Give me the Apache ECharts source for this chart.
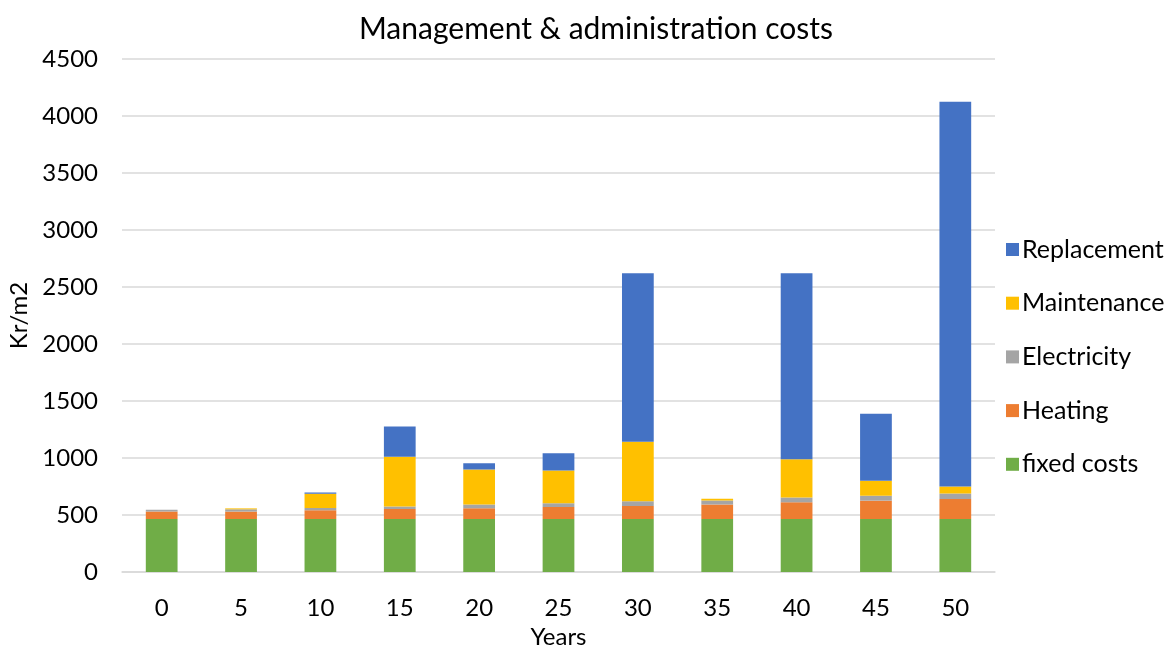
<!DOCTYPE html>
<html>
<head>
<meta charset="utf-8">
<script src="https://cdn.jsdelivr.net/npm/echarts@6/dist/echarts.min.js"></script>
<style>
  html, body { margin: 0; padding: 0; background: #fff; }
  #chart { width: 1170px; height: 648px; }
</style>
</head>
<body>
<div id="chart"></div>
<script>
// years on the x axis
const years = ['0', '5', '10', '15', '20', '25', '30', '35', '40', '45', '50']

// Kr/m2 per cost type
const fixedCosts  = [465, 465, 465, 465, 465, 465, 465, 465, 465, 465, 465]
const heating     = [65, 65, 76, 87, 95, 105, 115, 128, 146, 161, 175]
const electricity = [17, 20, 20, 23, 33, 34, 40, 35, 43, 43, 49]
const maintenance = [0, 8, 125, 437, 306, 286, 523, 15, 335, 131, 61]
const replacement = [0, 0, 11, 265, 56, 152, 1477, 0, 1631, 589, 3375]

const font = 'Lato, "Open Sans", sans-serif'

function stackSeries(name, data, color) {
    return {
        name: name,
        type: 'bar',
        stack: 'total',
        barWidth: '40%',
        data: data,
        itemStyle: { color: color }
    }
}

const myChart = echarts.init(document.getElementById('chart'))
myChart.setOption({
    animation: false,
    textStyle: { fontFamily: font },
    title: {
        text: 'Management & administration costs',
        left: 591,
        textAlign: 'center',
        top: 9,
        textStyle: { fontSize: 30, fontWeight: 'normal', color: '#000', fontFamily: font }
    },
    legend: {
        orient: 'vertical',
        left: 1001,
        top: 232,
        itemWidth: 13,
        itemHeight: 13,
        itemGap: 28.7,
        icon: 'rect',
        data: ['Replacement', 'Maintenance', 'Electricity', 'Heating', 'fixed costs'],
        textStyle: { fontSize: 25, color: '#000', fontFamily: font, padding: [0, 0, 0, -2] }
    },
    grid: { left: 122, right: 175, top: 59, bottom: 76, outerBoundsMode: 'none' },
    xAxis: {
        type: 'category',
        data: years,
        name: 'Years',
        nameLocation: 'middle',
        nameGap: 53,
        nameTextStyle: { fontSize: 24, color: '#000' },
        axisTick: { show: false },
        axisLine: { lineStyle: { color: '#D9D9D9', width: 1.5 } },
        axisLabel: { fontSize: 24, color: '#000', margin: 24 }
    },
    yAxis: {
        type: 'value',
        min: 0,
        max: 4500,
        interval: 500,
        name: 'Kr/m2',
        nameLocation: 'middle',
        nameGap: 85,
        nameRotate: 90,
        nameTextStyle: { fontSize: 24, color: '#000' },
        axisLabel: { fontSize: 24, color: '#000', margin: 24, formatter: v => String(v) },
        splitLine: { lineStyle: { color: '#D9D9D9', width: 1.5 } }
    },
    series: [
        stackSeries('fixed costs', fixedCosts, '#70AD47'),
        stackSeries('Heating', heating, '#ED7D31'),
        stackSeries('Electricity', electricity, '#A5A5A5'),
        stackSeries('Maintenance', maintenance, '#FFC000'),
        stackSeries('Replacement', replacement, '#4472C4')
    ]
})
</script>
</body>
</html>
